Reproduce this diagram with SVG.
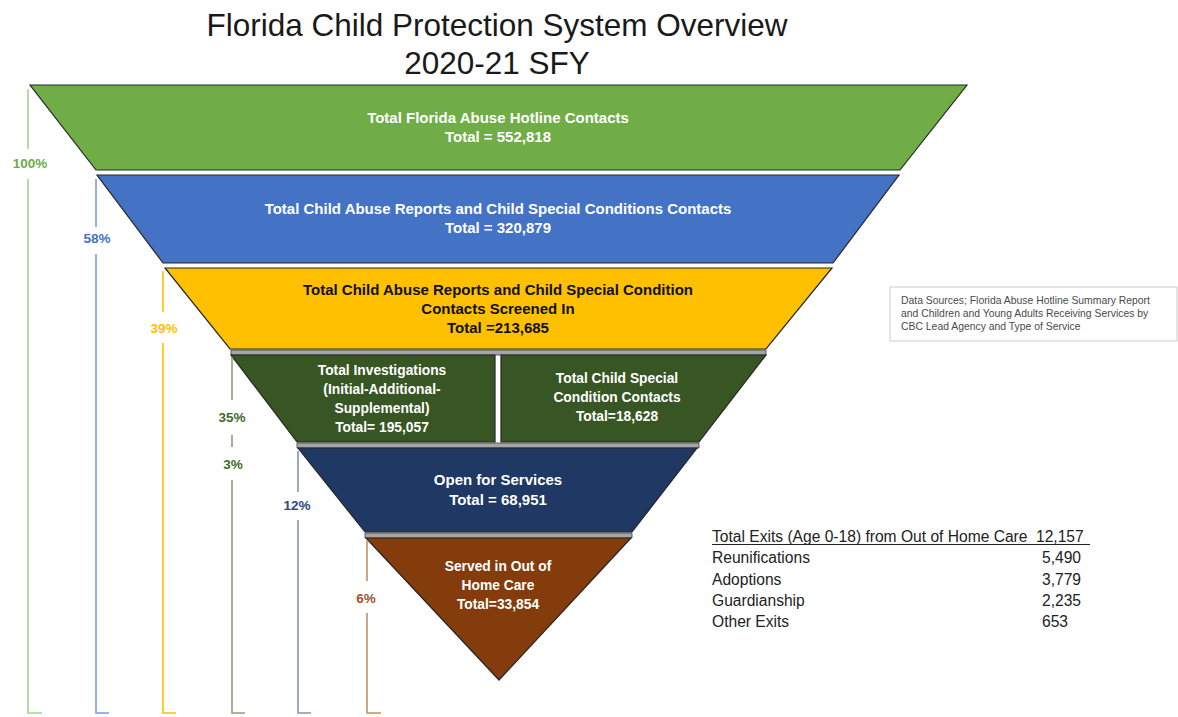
<svg xmlns="http://www.w3.org/2000/svg" width="1178" height="717" viewBox="0 0 1178 717">
<style>
  text { font-family: "Liberation Sans", Arial, sans-serif; }
  .title { font-size: 31.5px; fill: #1a1a1a; text-anchor: middle; }
  .band { stroke: #262626; stroke-width: 1.2; stroke-linejoin: miter; }
  .sep { fill: #a6a6a6; stroke: #404040; stroke-width: 0.8; }
  .bt { font-size: 15px; font-weight: bold; text-anchor: middle; fill: #ffffff; }
  .bt-dark { font-size: 15px; font-weight: bold; text-anchor: middle; fill: #111111; }
  .st { font-size: 13.8px; font-weight: bold; text-anchor: middle; fill: #ffffff; }
  .pct { font-size: 13.5px; font-weight: bold; text-anchor: middle; }
  .br { fill: none; stroke-width: 1.6; }
  .src { font-size: 10.4px; fill: #4a4a4a; }
  .ex { font-size: 15.6px; fill: #222222; }
</style>

<g id="title">
  <text class="title" x="497" y="36">Florida Child Protection System Overview</text>
  <text class="title" x="497" y="74">2020-21 SFY</text>
</g>

<g id="separators">
  <polygon class="sep" points="231,350 766,350 766,355 231,355"/>
  <polygon class="sep" points="297,443 699,443 699,448 297,448"/>
  <polygon class="sep" points="365,533 632,533 632,538 365,538"/>
</g>

<g id="hotline">
  <polygon class="band" fill="#70ad47" points="30,85 967,85 900,170 96,170"/>
  <text class="bt" x="498" y="123">Total Florida Abuse Hotline Contacts</text>
  <text class="bt" x="498" y="142">Total = 552,818</text>
</g>

<g id="reports">
  <polygon class="band" fill="#4472c4" points="97,175 899,175 833,263 163,263"/>
  <text class="bt" x="498" y="214">Total Child Abuse Reports and Child Special Conditions Contacts</text>
  <text class="bt" x="498" y="233">Total = 320,879</text>
</g>

<g id="screened">
  <polygon class="band" fill="#ffc000" points="165,268 832,268 766,349 230,349"/>
  <text class="bt-dark" x="498" y="295">Total Child Abuse Reports and Child Special Condition</text>
  <text class="bt-dark" x="498" y="314">Contacts Screened In</text>
  <text class="bt-dark" x="498" y="333">Total =213,685</text>
</g>

<g id="investigations">
  <polygon class="band" fill="#375623" points="231,355 495,355 495,442 297,442"/>
  <text class="st" x="382" y="375">Total Investigations</text>
  <text class="st" x="382" y="394">(Initial-Additional-</text>
  <text class="st" x="382" y="413">Supplemental)</text>
  <text class="st" x="382" y="432">Total= 195,057</text>
</g>

<g id="special-conditions">
  <polygon class="band" fill="#375623" points="501,355 766,355 699,442 501,442"/>
  <text class="st" x="617" y="383">Total Child Special</text>
  <text class="st" x="617" y="402">Condition Contacts</text>
  <text class="st" x="617" y="421">Total=18,628</text>
</g>

<g id="open-services">
  <polygon class="band" fill="#1f3864" points="298,448 697,448 632,532 365,532"/>
  <text class="bt" x="498" y="485">Open for Services</text>
  <text class="bt" x="498" y="505">Total = 68,951</text>
</g>

<g id="out-of-home">
  <polygon class="band" fill="#843c0c" points="366,538 631,538 499,680"/>
  <text class="st" x="498" y="571">Served in Out of</text>
  <text class="st" x="498" y="590">Home Care</text>
  <text class="st" x="498" y="609">Total=33,854</text>
</g>

<g id="brackets">
  <path class="br" stroke="#a9d18e" d="M28,89 V149 M28,179 V713 H42"/>
  <text class="pct" fill="#70ad47" x="30" y="168">100%</text>
  <path class="br" stroke="#7b9be0" d="M96,179 V227 M96,254 V713 H109"/>
  <text class="pct" fill="#4472c4" x="97" y="243">58%</text>
  <path class="br" stroke="#ffc000" d="M163,271 V312 M163,343 V713 H176"/>
  <text class="pct" fill="#ffc000" x="164" y="333">39%</text>
  <path class="br" stroke="#8aa07a" d="M232,357 V400 M232,435 V447 M232,480 V713 H245"/>
  <text class="pct" fill="#3f6a2c" x="232" y="422">35%</text>
  <text class="pct" fill="#3f6a2c" x="233" y="469">3%</text>
  <path class="br" stroke="#8494b4" d="M298,451 V492 M298,520 V713 H311"/>
  <text class="pct" fill="#2f4a80" x="297" y="510">12%</text>
  <path class="br" stroke="#c0906c" d="M367,540 V581 M367,613 V713 H381"/>
  <text class="pct" fill="#a0522d" x="366" y="603">6%</text>
</g>

<g id="data-sources">
  <rect x="890" y="287" width="287" height="54" fill="#ffffff" stroke="#cccccc" stroke-width="1"/>
  <text class="src" x="901" y="304">Data Sources;  Florida Abuse Hotline Summary Report</text>
  <text class="src" x="901" y="317">and Children and Young Adults Receiving Services by</text>
  <text class="src" x="901" y="330">CBC Lead  Agency and Type of Service</text>
</g>

<g id="exits">
  <text class="ex" x="712" y="542">Total Exits (Age 0-18) from Out of Home Care</text>
  <text class="ex" x="1036" y="542">12,157</text>
  <line x1="712" y1="544.5" x2="1090" y2="544.5" stroke="#222222" stroke-width="1"/>
  <text class="ex" x="712" y="563">Reunifications</text>
  <text class="ex" x="1042" y="563">5,490</text>
  <text class="ex" x="712" y="585">Adoptions</text>
  <text class="ex" x="1042" y="585">3,779</text>
  <text class="ex" x="712" y="606">Guardianship</text>
  <text class="ex" x="1042" y="606">2,235</text>
  <text class="ex" x="712" y="627">Other Exits</text>
  <text class="ex" x="1042" y="627">653</text>
</g>
</svg>
